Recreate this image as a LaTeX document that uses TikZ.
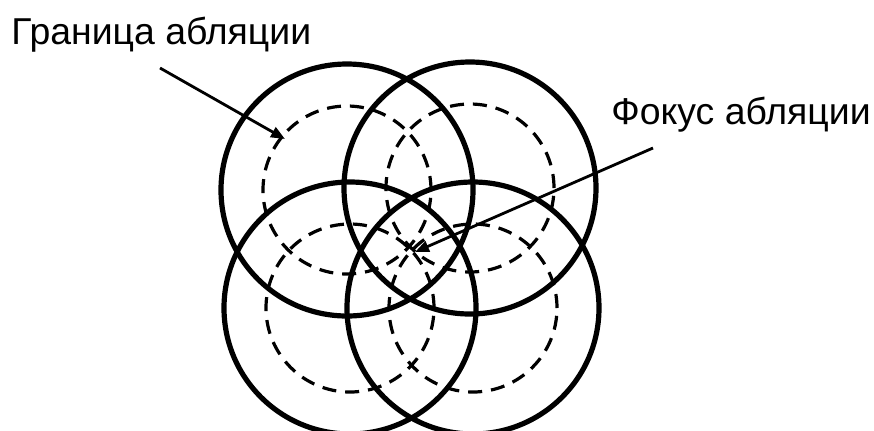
\documentclass[tikz,border=0pt]{standalone}
\usepackage{fontspec}
\setmainfont{Liberation Sans}
\usetikzlibrary{arrows.meta}
\tikzset{
  zone/.style={draw, circle, line width=2.6pt, minimum size=126pt, inner sep=0pt},
  core/.style={draw, circle, line width=1.6pt, dash pattern=on 7pt off 4.5pt,
               minimum size=84pt, inner sep=0pt},
  lbl/.style={font=\fontsize{18.7}{22}\selectfont, inner sep=0pt, anchor=base west},
  arr/.style={-{Triangle[length=7pt,width=5.5pt]}, line width=1.4pt},
}
\begin{document}
\begin{tikzpicture}[x=0.5pt, y=-0.5pt]
  \useasboundingbox (0,0) rectangle (874,430);
  \clip (0,0) rectangle (874,430);
  % ablation cores
  \node[core] (c1) at (347,190) {};
  \node[core] (c2) at (470,188) {};
  \node[core] (c3) at (350,308) {};
  \node[core] (c4) at (473,308) {};
  % ablation zones
  \node[zone] (z1) at (347,190) {};
  \node[zone] (z2) at (470,188) {};
  \node[zone] (z3) at (350,308) {};
  \node[zone] (z4) at (473,308) {};
  % labels
  \node[lbl] (gran) at (11,44) {Граница абляции};
  \node[lbl] (fok) at (611,124) {Фокус абляции};
  \coordinate (granA) at (160,68);
  \coordinate (granB) at (285,139);
  \coordinate (fokA) at (653,148);
  \coordinate (fokB) at (415,252);
  \draw[arr] (granA) -- (granB);
  \draw[arr] (fokA) -- (fokB);
\end{tikzpicture}
\end{document}
